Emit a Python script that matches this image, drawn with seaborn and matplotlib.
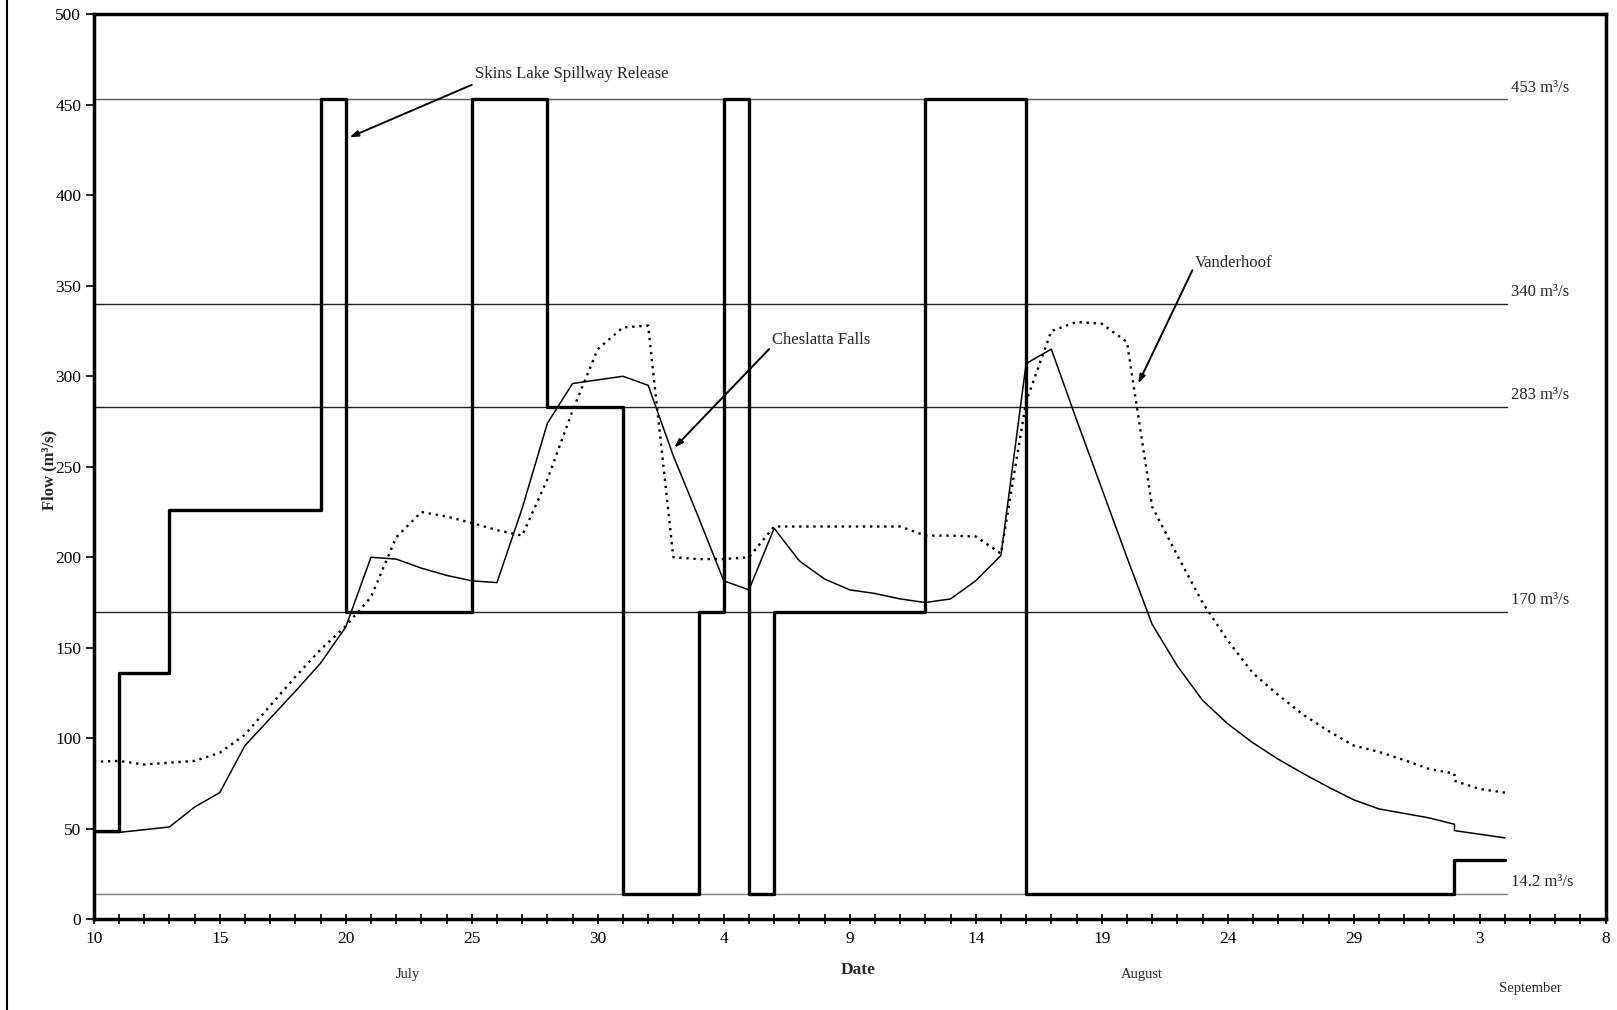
import matplotlib
matplotlib.use('Agg')
import matplotlib.pyplot as plt
from matplotlib.lines import Line2D
import seaborn as sns

# x axis: day index, 0 = July 10 (Aug 1 = 22, Sept 1 = 53)
release_day = [0, 1, 3, 9, 10, 15, 18, 21, 24, 25, 26, 27, 33, 37, 54, 56]
release_flow = [49, 136, 226, 453, 170, 453, 283, 14.2, 170, 453, 14.2, 170, 453, 14.2, 33, 33]

ches_day = [0, 1, 2, 3, 4, 5, 6, 7, 8, 9, 10, 11, 12, 13, 14, 15, 16, 17, 18, 19,
            20, 21, 22, 23, 24, 25, 26, 27, 28, 29, 30, 31, 32, 33, 34, 35, 36, 37, 38, 39,
            40, 41, 42, 43, 44, 45, 46, 47, 48, 49, 50, 51, 52, 53, 54, 54, 55, 56]
ches_flow = [48, 48, 49.5, 51, 62, 70, 96, 111, 126, 141.5, 161.5, 200, 199, 194, 190, 187, 186, 227, 274, 296,
             298, 300, 295, 256, 222, 187, 182, 216, 198, 188, 182, 180, 177, 175, 177, 187, 201, 307, 315, 276,
             238, 200, 163, 140, 121, 108, 97.5, 88.5, 80.5, 73, 66, 61, 58.5, 56, 52.5, 49, 47, 45]

vand_day = [0, 1, 2, 3, 4, 5, 6, 7, 8, 9, 10, 11, 12, 13, 14, 15, 16, 17, 18, 19,
            20, 21, 22, 23, 24, 25, 26, 27, 28, 29, 30, 31, 32, 33, 34, 35, 36, 37, 38, 39,
            40, 41, 42, 43, 44, 45, 46, 47, 48, 49, 50, 51, 52, 53, 54, 54, 55, 56]
vand_flow = [87, 87.5, 85.5, 86.5, 87.5, 92, 102, 118, 134, 149, 162, 178, 211, 225, 222.5, 219, 215, 212, 243, 281,
             315, 327, 328, 200, 199, 199, 200, 217, 217, 217, 217, 217, 217, 212, 212, 211.5, 202, 286, 325, 330,
             329, 319, 228, 201, 175, 154, 136, 124, 113, 104, 96, 92.5, 88, 83, 80.5, 76.5, 72, 70]

ref_flows = [453, 340, 283, 170, 14.2]
ref_labels = ['453 m³/s', '340 m³/s', '283 m³/s', '170 m³/s', '14.2 m³/s']
ref_colors = ['#555555', '#222222', '#222222', '#222222', '#808080']

xtick_labels = ['10', '15', '20', '25', '30', '4', '9', '14', '19', '24', '29', '3', '8']

sns.set_style('white')
plt.rcParams['font.family'] = ['Liberation Serif', 'DejaVu Serif']

fig = plt.figure(figsize=(16.17, 10.10), dpi=100)
ax = fig.add_axes([0.058, 0.0898, 0.935, 0.8961])

# threshold lines with labels at the right
for val, lab, col in zip(ref_flows, ref_labels, ref_colors):
    ax.plot([0, 56.1], [val, val], color=col, lw=1.0, zorder=1)
    ax.text(56.25, val + 6.5, lab, fontsize=12, va='center', ha='left')

sns.lineplot(x=release_day, y=release_flow, drawstyle='steps-post', color='black',
             lw=2.4, estimator=None, sort=False, ax=ax, zorder=3)
sns.lineplot(x=ches_day, y=ches_flow, color='black', lw=1.1,
             estimator=None, sort=False, ax=ax, zorder=2)
sns.lineplot(x=vand_day, y=vand_flow, color='black', lw=1.7, linestyle=(0, (1, 2)),
             estimator=None, sort=False, ax=ax, zorder=2)

# callouts
arrow = dict(arrowstyle='-|>,head_length=0.5,head_width=0.17', color='black',
             lw=1.4, shrinkA=0, shrinkB=0)
ax.text(15.14, 467, 'Skins Lake Spillway Release', fontsize=12, va='center')
ax.annotate('', xy=(10.15, 432), xytext=(15.0, 461), arrowprops=arrow)
ax.text(26.9, 320, 'Cheslatta Falls', fontsize=12, va='center')
ax.annotate('', xy=(23.04, 260.5), xytext=(26.8, 315), arrowprops=arrow)
ax.text(43.7, 362.6, 'Vanderhoof', fontsize=12, va='center')
ax.annotate('', xy=(41.45, 296), xytext=(43.6, 358.6), arrowprops=arrow)

ax.set_xlim(0, 60)
ax.set_ylim(0, 500)
ax.set_xticks(range(0, 61, 5))
ax.set_xticklabels(xtick_labels)
ax.set_xticks(range(0, 61), minor=True)
ax.set_yticks(range(0, 501, 50))
ax.tick_params(axis='x', which='both', bottom=True, direction='inout', length=7,
               width=1.2, labelsize=12.5, pad=5, colors='black')
ax.tick_params(axis='y', left=True, direction='out', length=6, width=1.2,
               labelsize=12.5, pad=3, colors='black')
ax.set_xlabel('')
ax.set_ylabel('')
for s in ax.spines.values():
    s.set_visible(True)
    s.set_linewidth(2.5)
    s.set_color('black')

fig.text(0.0307, 0.535, 'Flow (m³/s)', rotation=90, ha='center', va='center',
         fontsize=12, fontweight='bold')
fig.text(0.531, 0.0396, 'Date', ha='center', va='center', fontsize=12.5, fontweight='bold')
fig.text(0.2523, 0.0347, 'July', ha='center', va='center', fontsize=10.5)
fig.text(0.706, 0.0347, 'August', ha='center', va='center', fontsize=10.5)
fig.text(0.9466, 0.0208, 'September', ha='center', va='center', fontsize=10.5)

fig.add_artist(Line2D([0.0045, 0.0045], [0, 1], color='black', lw=1.5, transform=fig.transFigure))

fig.savefig('out.png', dpi=100)
